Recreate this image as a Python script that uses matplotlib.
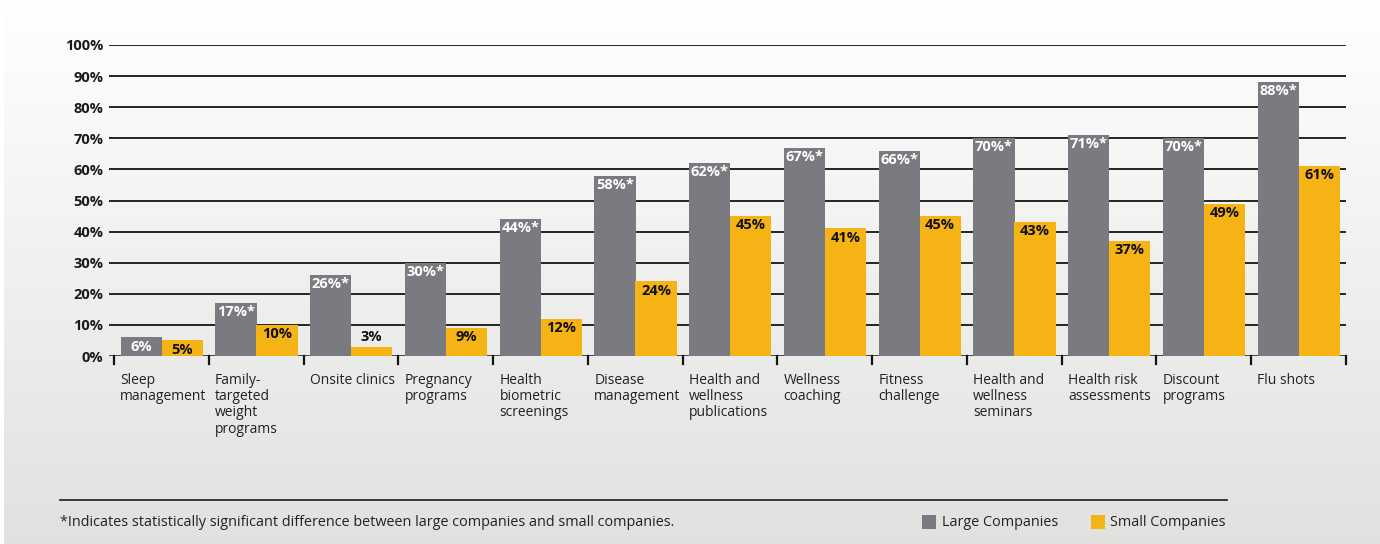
import numpy as np
import matplotlib.pyplot as plt
from matplotlib.patches import Rectangle

categories = [
    "Sleep\nmanagement",
    "Family-\ntargeted\nweight\nprograms",
    "Onsite clinics",
    "Pregnancy\nprograms",
    "Health\nbiometric\nscreenings",
    "Disease\nmanagement",
    "Health and\nwellness\npublications",
    "Wellness\ncoaching",
    "Fitness\nchallenge",
    "Health and\nwellness\nseminars",
    "Health risk\nassessments",
    "Discount\nprograms",
    "Flu shots",
]
large = [6, 17, 26, 30, 44, 58, 62, 67, 66, 70, 71, 70, 88]
small = [5, 10, 3, 9, 12, 24, 45, 41, 45, 43, 37, 49, 61]
significant = [False, True, True, True, True, True, True, True, True, True, True, True, True]
y_ticks = [0, 10, 20, 30, 40, 50, 60, 70, 80, 90, 100]
series_names = ["Large Companies", "Small Companies"]
footnote = "*Indicates statistically significant difference between large companies and small companies."

GRAY = "#797b80"
GOLD = "#f5b316"
FONT = "Open Sans"

plt.rcParams["font.family"] = [FONT, "DejaVu Sans"]

W, H = 1380, 544
fig = plt.figure(figsize=(W / 100, H / 100), dpi=100)

# vertical background gradient
bg = fig.add_axes([0, 0, 1, 1], zorder=0)
grad = np.linspace(0, 1, 256)[:, None]
top = np.array([1.0, 1.0, 1.0])
bot = np.array([0.882, 0.882, 0.874])
img = top + (bot - top) * grad[..., None]
bg.imshow(img, aspect="auto", extent=[0, 1, 0, 1], origin="upper")
bg.add_patch(Rectangle((0, 0), 4 / W, 1, color="white", lw=0))
bg.set_xlim(0, 1)
bg.set_ylim(0, 1)
bg.axis("off")

x0, x1 = 109, 1346
y0, y1 = 356, 45
ax = fig.add_axes([x0 / W, 1 - y0 / H, (x1 - x0) / W, (y0 - y1) / H], zorder=1)
ax.set_facecolor("none")
ax.set_xlim(-0.055, 13.0)
ax.set_ylim(0, 100)

n = len(categories)
idx = np.arange(n)
bw = 0.435
xl = idx + 0.068 + bw / 2
xs = idx + 0.500 + bw / 2

for y in y_ticks:
    ax.axhline(y, color="#141414", lw=1.3 if y else 1.8, zorder=1)

ax.bar(xl, large, bw, color=GRAY, zorder=2, linewidth=0)
ax.bar(xs, small, bw, color=GOLD, zorder=2, linewidth=0)

lab_kw = dict(ha="center", fontsize=10.5, fontweight="bold", zorder=3)
for x, v, s in zip(xl, large, significant):
    ax.text(x, v - 0.7, f"{v}%" + ("*" if s else ""), va="top", color="white", **lab_kw)
for x, v in zip(xs, small):
    if v < 5:
        ax.text(x, v + 0.9, f"{v}%", va="bottom", color="#111111", **lab_kw)
    else:
        ax.text(x, v - 0.7, f"{v}%", va="top", color="#111111", **lab_kw)

ax.set_yticks(y_ticks)
ax.set_yticklabels([f"{t}%" for t in y_ticks], fontsize=10.5, fontweight="bold", color="#1a1a1a")
ax.tick_params(axis="y", length=0, pad=4)
ax.set_xticks([])
for s in ax.spines.values():
    s.set_visible(False)

# category boundary ticks below the baseline
for b in range(n + 1):
    ax.plot([b, b], [0, -2.6], color="#141414", lw=1.6, clip_on=False, zorder=3)

for i, c in enumerate(categories):
    ax.text(i + 0.065, -5.4, c, ha="left", va="top", fontsize=10,
            color="#222222", linespacing=1.12)

# footer rule, footnote and legend
fig.add_artist(plt.Line2D([60 / W, 1227 / W], [1 - 500 / H, 1 - 500 / H],
                          color="#1a1a1a", lw=1.2, zorder=2))
fig.text(60 / W, 1 - 522 / H, footnote, ha="left", va="center", fontsize=10.4,
         color="#222222", zorder=2)

for (sx, tx, col, name) in [(922, 942, GRAY, series_names[0]), (1091, 1110, GOLD, series_names[1])]:
    fig.add_artist(Rectangle((sx / W, 1 - 529 / H), 14 / W, 14 / H,
                             transform=fig.transFigure, color=col, lw=0, zorder=2))
    fig.text(tx / W, 1 - 522 / H, name, ha="left", va="center", fontsize=10.4,
             color="#222222", zorder=2)

fig.savefig("out.png", dpi=100)
